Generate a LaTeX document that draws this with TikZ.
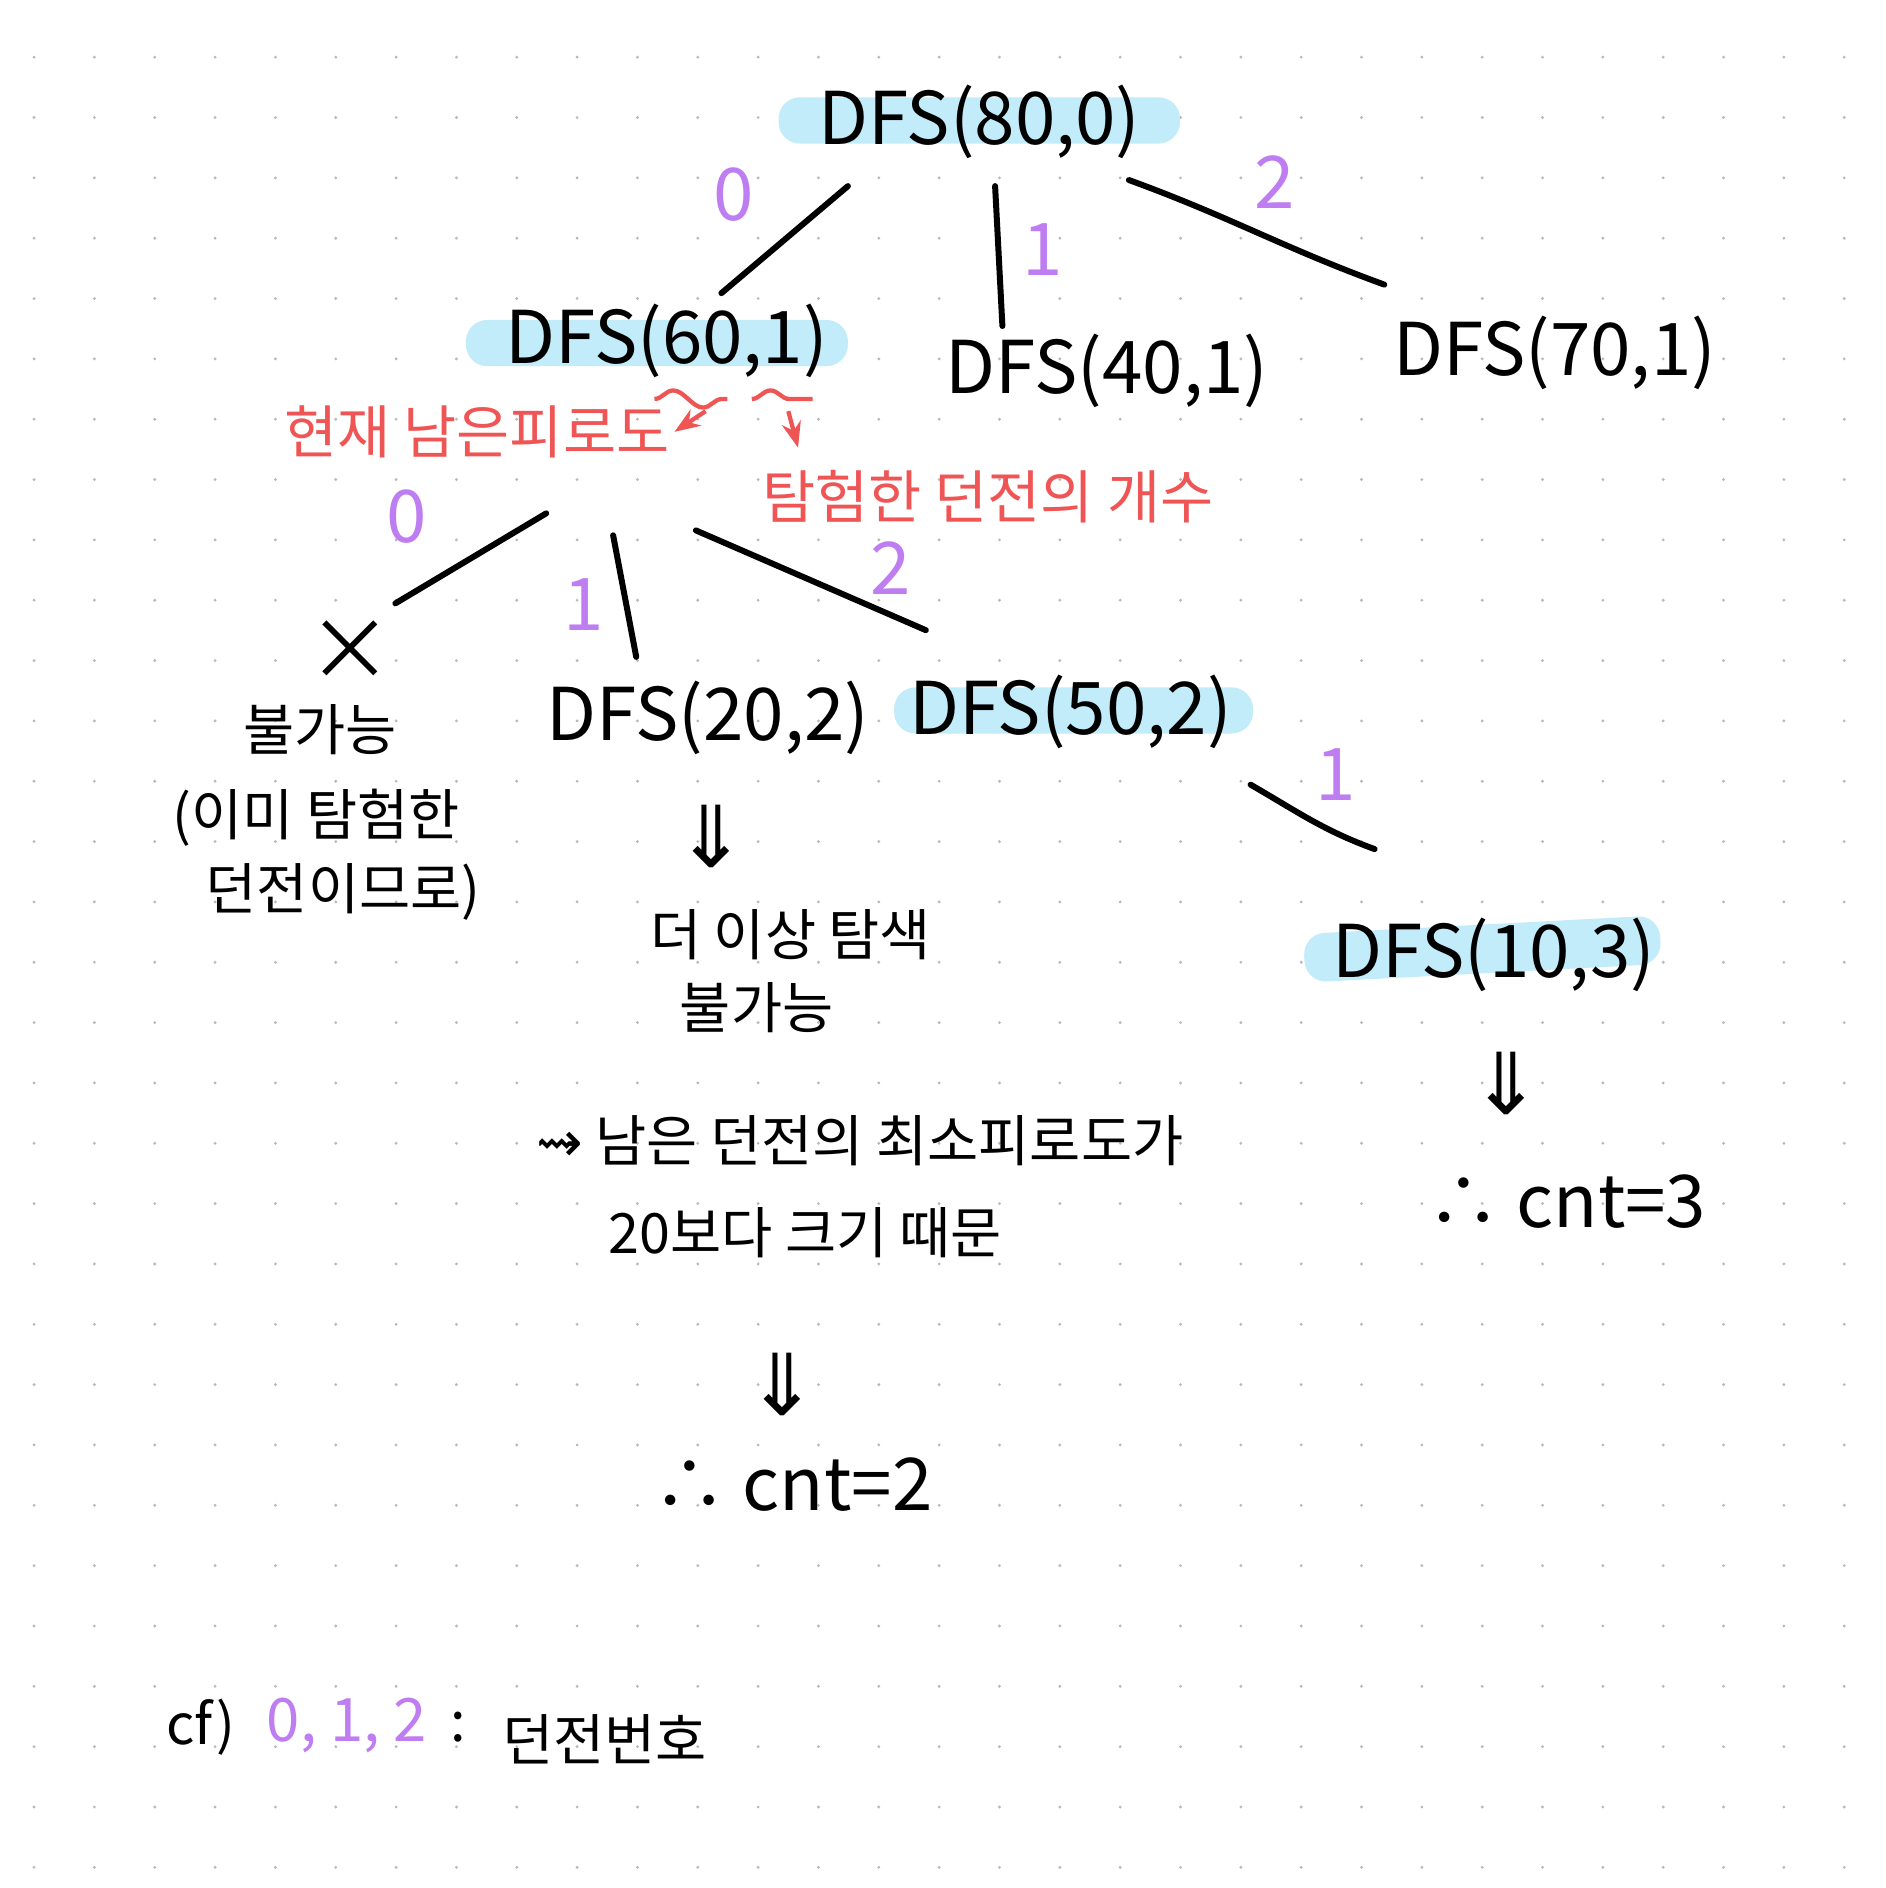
\documentclass[tikz,border=0pt]{standalone}
\usepackage{fontspec}
\setmainfont{Noto Sans CJK KR}
\newfontfamily\symf{DejaVu Sans}
\usetikzlibrary{arrows.meta,decorations.pathmorphing}
\definecolor{hl}{RGB}{195,236,250}
\definecolor{pur}{RGB}{190,125,240}
\definecolor{rd}{RGB}{240,85,85}
\tikzset{
  dfs/.style={font=\fontsize{17}{20}\selectfont, inner sep=1pt},
  kr/.style={font=\fontsize{13}{16}\selectfont, inner sep=1pt},
  num/.style={text=pur, font=\fontsize{17}{20}\selectfont, inner sep=1pt},
  rtxt/.style={text=rd, font=\fontsize{13.5}{16}\selectfont, inner sep=1pt},
  edge/.style={line width=1.4pt, line cap=round},
  hlbox/.style={fill=hl, rounded corners=5pt},
  rarr/.style={rd, line width=1pt, -{Stealth[length=6pt]}}
}
\begin{document}
\begin{tikzpicture}[x=0.01cm,y=-0.01cm]
\useasboundingbox (0,0) rectangle (1550,1552);
\fill[white] (0,0) rectangle (1550,1552);
\foreach \i in {0,...,30} \foreach \j in {0,...,30}
  \fill[gray!55] (28+49.6*\i,47+49.6*\j) circle (1.3);
% highlights
\fill[hlbox] (640,80) rectangle (970,118);
\fill[hlbox] (383,263) rectangle (697,301);
\fill[hlbox] (735,565) rectangle (1030,603);
\fill[hlbox,rotate around={3:(1220,780)}] (1072,760) rectangle (1365,800);
% nodes
\node[dfs] (r) at (805,100) {DFS(80,0)};
\node[dfs] (a) at (548,280) {DFS(60,1)};
\node[dfs] (b) at (910,305) {DFS(40,1)};
\node[dfs] (c) at (1278,290) {DFS(70,1)};
\node[dfs,font=\fontsize{20}{22}\selectfont] (x) at (288,535) {×};
\node[dfs] (d) at (582,590) {DFS(20,2)};
\node[dfs] (e) at (880,585) {DFS(50,2)};
\node[dfs] (f) at (1228,785) {DFS(10,3)};
% edges
\coordinate (r0) at (697,153); \coordinate (a0t) at (593,241);
\coordinate (r1) at (818,153); \coordinate (b0t) at (824,268);
\coordinate (r2) at (928,148); \coordinate (c0t) at (1138,234);
\draw[edge] (r0) -- (a0t);
\draw[edge] (r1) -- (b0t);
\draw[edge] (r2) to[out=-20,in=160] (c0t);
\coordinate (a1) at (449,422); \coordinate (x1) at (325,496);
\coordinate (a2) at (504,440); \coordinate (d1) at (523,540);
\coordinate (a3) at (572,436); \coordinate (e1) at (761,518);
\coordinate (e2) at (1028,645); \coordinate (f1) at (1130,698);
\draw[edge] (a1) -- (x1);
\draw[edge] (a2) -- (d1);
\draw[edge] (a3) -- (e1);
\draw[edge] (e2) to[out=-30,in=160] (f1);
% edge labels
\node[num] (l0) at (603,160) {0};
\node[num] (l1) at (857,205) {1};
\node[num] (l2) at (1048,150) {2};
\node[num] (m0) at (334,425) {0};
\node[num] (m1) at (480,497) {1};
\node[num] (m2) at (732,467) {2};
\node[num] (n1) at (1098,637) {1};
% red annotations
\coordinate (w1a) at (538,328); \coordinate (w1b) at (598,328);
\coordinate (w2a) at (618,328); \coordinate (w2b) at (668,328);
\draw[rd, line width=1pt, decorate, decoration={snake,amplitude=2pt,segment length=14pt}] (w1a) -- (w1b);
\draw[rd, line width=1pt, decorate, decoration={snake,amplitude=2pt,segment length=14pt}] (w2a) -- (w2b);
\node[rtxt] (t1) at (392,355) {현재 남은피로도};
\node[rtxt] (t2) at (812,408) {탐험한 던전의 개수};
\coordinate (p1) at (580,338); \coordinate (p2) at (648,338);
\draw[rarr] (p1) -- (t1.east);
\draw[rarr] (p2) -- ++(8,30);
% texts
\node[kr] (k1) at (263,600) {불가능};
\node[kr] (k2) at (260,672) {(이미 탐험한};
\node[kr] (k3) at (282,733) {던전이므로)};
\node[kr,font=\symf\fontsize{20}{22}\selectfont] (ar1) at (585,688) {⇓};
\node[kr] (k4) at (650,768) {더 이상 탐색};
\node[kr] (k5) at (622,828) {불가능};
\node[kr] (k6) at (707,938) {{\symf ⇝} 남은 던전의 최소피로도가};
\node[kr] (k7) at (662,1013) {20보다 크기 때문};
\node[kr,font=\symf\fontsize{20}{22}\selectfont] (ar2) at (643,1138) {⇓};
\node[dfs] (k8) at (652,1220) {∴ cnt=2};
\node[kr,font=\symf\fontsize{20}{22}\selectfont] (ar3) at (1238,891) {⇓};
\node[dfs] (k9) at (1288,988) {∴ cnt=3};
\node[kr] (cf) at (165,1420) {cf)};
\node[num,font=\fontsize{14}{18}\selectfont] (cfn) at (285,1418) {0, 1, 2};
\node[kr] (cfc) at (377,1420) {:};
\node[kr] (cft) at (497,1430) {던전번호};
\end{tikzpicture}
\end{document}
